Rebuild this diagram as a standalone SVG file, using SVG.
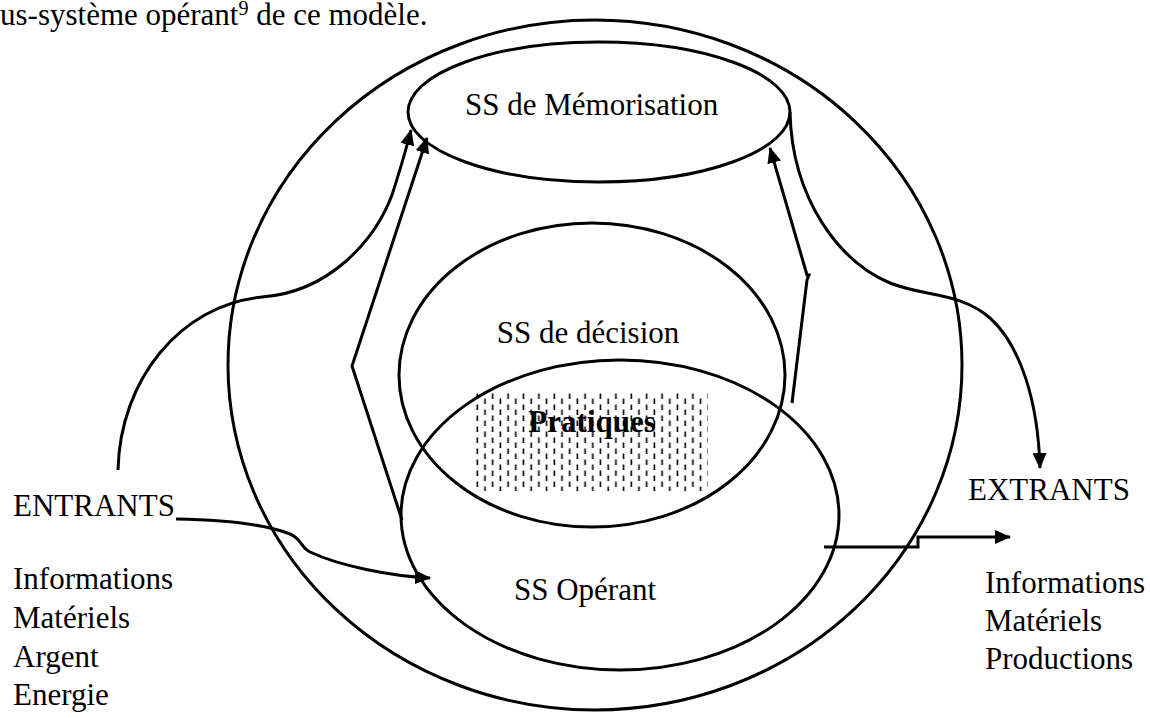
<svg xmlns="http://www.w3.org/2000/svg" width="1150" height="718" viewBox="0 0 1150 718">
  <style>
    .txt { font-family: "Liberation Serif", "Times New Roman", serif; font-size: 31px; fill: #000; }
    .bold { font-weight: bold; }
    .shape { fill: none; stroke: #000; stroke-width: 3; }
    .conn { fill: none; stroke: #000; stroke-width: 3; stroke-linejoin: miter; }
  </style>
  <defs>
    <marker id="arrow" markerUnits="userSpaceOnUse" markerWidth="16" markerHeight="14" refX="15" refY="7" orient="auto">
      <path d="M0,0 L16,7 L0,14 z" fill="#000"/>
    </marker>
    <pattern id="dashes" patternUnits="userSpaceOnUse" x="475" y="393" width="15.4" height="11">
      <rect x="1.5" y="0.5" width="1.6" height="5.5" fill="#000"/>
      <rect x="9.2" y="5.5" width="1.6" height="5.5" fill="#000"/>
    </pattern>
  </defs>

  <!-- running text above the figure -->
  <text class="txt" x="0" y="25">us-système opérant<tspan font-size="20" dy="-10">9</tspan><tspan dy="10"> de ce modèle.</tspan></text>

  <!-- hatched zone where decision and operating subsystems overlap -->
  <g id="pratiques">
    <rect x="475" y="393" width="233" height="98" fill="url(#dashes)"/>
    <text class="txt bold" x="592" y="432" text-anchor="middle">Pratiques</text>
  </g>

  <g id="systeme">
    <ellipse class="shape" cx="595" cy="365" rx="367" ry="345"/>
  </g>

  <g id="ss-memorisation">
    <ellipse class="shape" cx="599" cy="112" rx="191" ry="70"/>
    <text class="txt" x="465" y="115">SS de Mémorisation</text>
  </g>

  <g id="ss-decision">
    <ellipse class="shape" cx="592" cy="375" rx="193" ry="152"/>
    <text class="txt" x="588" y="343" text-anchor="middle">SS de décision</text>
  </g>

  <g id="ss-operant">
    <ellipse class="shape" cx="620" cy="515" rx="219" ry="155"/>
    <text class="txt" x="585" y="600" text-anchor="middle">SS Opérant</text>
  </g>

  <g id="entrants">
    <text class="txt" x="13" y="516">ENTRANTS</text>
    <text class="txt" x="13" y="589">Informations</text>
    <text class="txt" x="13" y="628">Matériels</text>
    <text class="txt" x="13" y="667">Argent</text>
    <text class="txt" x="13" y="705">Energie</text>
  </g>

  <g id="extrants">
    <text class="txt" x="968" y="500">EXTRANTS</text>
    <text class="txt" x="985" y="593">Informations</text>
    <text class="txt" x="985" y="631">Matériels</text>
    <text class="txt" x="985" y="669">Productions</text>
  </g>

  <g id="connectors">
    <!-- inputs feeding the memory subsystem -->
    <path class="conn" d="M118,470 C120,380 180,305 262,297 C330,292 375,240 392,195 C400,170 406,150 411,130" marker-end="url(#arrow)"/>
    <!-- operating subsystem up to memory, left side -->
    <path class="conn" d="M402,520 L352,366 L427,138" marker-end="url(#arrow)"/>
    <!-- operating subsystem up to memory, right side -->
    <path class="conn" d="M792,403 L807,280 L809,275 L807,275 L770,148" marker-end="url(#arrow)"/>
    <!-- memory out to the outputs -->
    <path class="conn" d="M790,112 C792,200 840,262 890,283 C925,297 960,292 990,318 C1020,345 1038,400 1040,468" marker-end="url(#arrow)"/>
    <!-- inputs into the operating subsystem -->
    <path class="conn" d="M176,519 C230,520 270,526 290,534 C302,539 300,547 310,552 C340,566 390,576 430,578" marker-end="url(#arrow)"/>
    <!-- operating subsystem out to the outputs -->
    <path class="conn" d="M824,547 H918 V537 H1010" marker-end="url(#arrow)"/>
  </g>
</svg>
